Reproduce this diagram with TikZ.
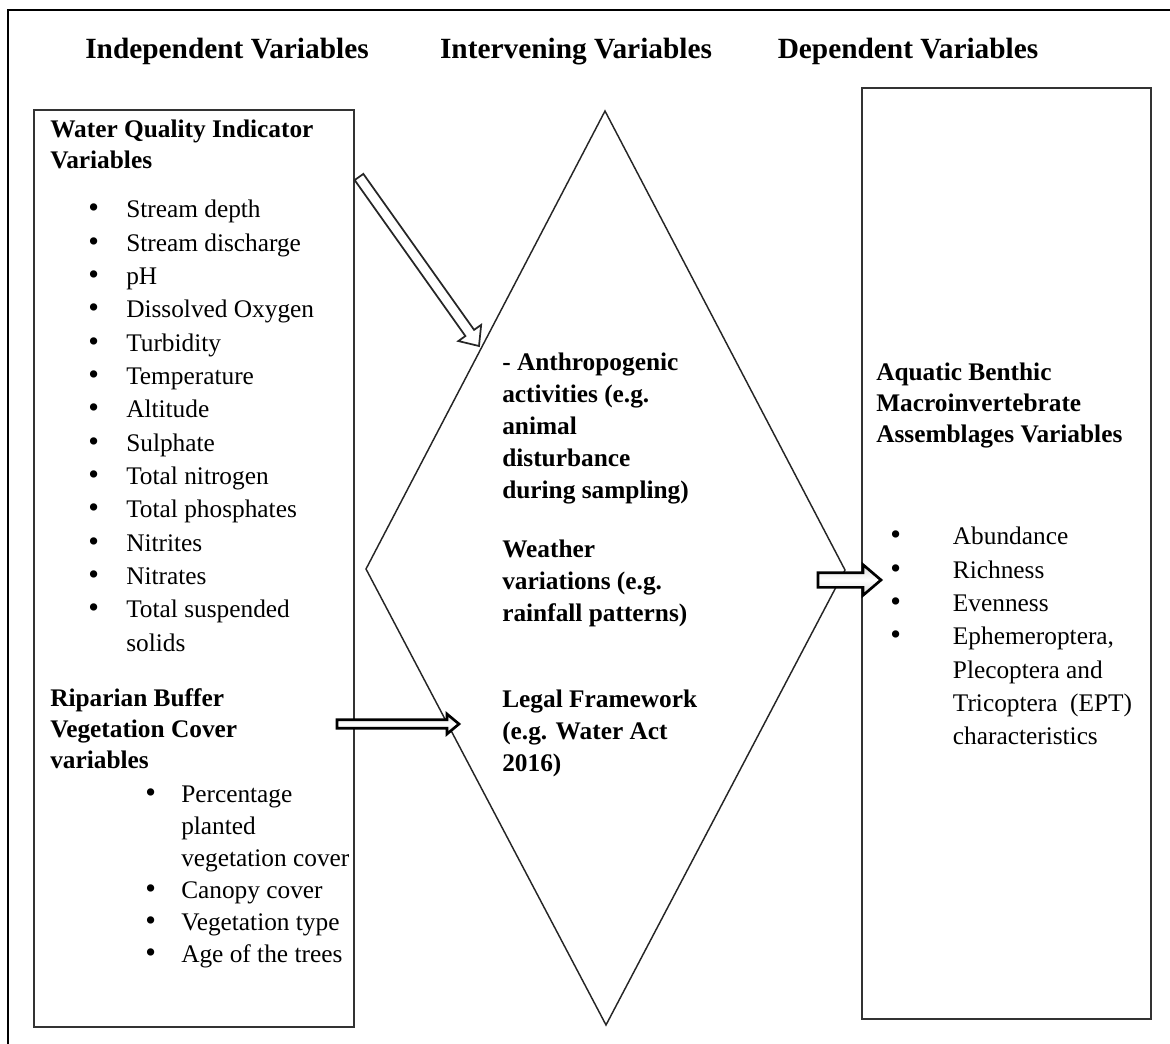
\documentclass[tikz,border=0pt]{standalone}
\usepackage{fontspec}
\setmainfont{Liberation Serif}
\usetikzlibrary{calc}
\newcommand{\bul}[1]{\makebox[#1][l]{\scalebox{1.2}{\textbullet}}}
% block arrow: start, end, shaft half width, head half width, head length
\newcommand{\blockarrow}[6][]{%
  \coordinate (#2n) at ($(#3)!#6!(#2)$);
  \draw[#1] ($(#2)!#4!90:(#3)$) -- ($(#2n)!#4!90:(#3)$) -- ($(#2n)!#5!90:(#3)$) -- (#3)
    -- ($(#2n)!#5!-90:(#3)$) -- ($(#2n)!#4!-90:(#3)$) -- ($(#2)!#4!-90:(#3)$) -- cycle;}

\begin{document}
\begin{tikzpicture}[x=0.75pt,y=-0.75pt,
    title/.style={font=\fontsize{22}{26}\selectfont\bfseries, inner sep=0pt, anchor=base},
    head/.style={font=\fontsize{19}{23.25}\selectfont\bfseries, align=left, anchor=north west, inner sep=0pt},
    items/.style={font=\fontsize{19}{25}\selectfont, align=left, anchor=north west, inner sep=0pt},
    mid/.style={font=\fontsize{19}{24}\selectfont\bfseries, align=left, anchor=north west, inner sep=0pt},
    box/.style={draw=black!80, line width=1.5pt, inner sep=0pt},
    openarrow/.style={draw=black!85, line width=1.3pt, fill=white, line join=miter},
    greyarrow/.style={draw=black, line width=2pt, top color=gray!30, bottom color=gray!30, middle color=white, line join=miter}]
  \useasboundingbox (0,0) rectangle (1170,1044);
  % frame
  \coordinate (fbl) at (8,1046);
  \coordinate (ftl) at (8,10);
  \coordinate (ftr) at (1172,10);
  \draw[line width=2.2pt] (fbl) -- (ftl) -- (ftr);

  % column titles
  \node[title] (tindep) at (227,59) {Independent Variables};
  \node[title] (tinterv) at (576,59) {Intervening Variables};
  \node[title] (tdep) at (908,59) {Dependent Variables};

  % boxes and diamond
  \node[box, minimum width=240pt, minimum height=687.75pt] (indep) at (194,568.5) {};
  \node[box, minimum width=216.75pt, minimum height=698.25pt] (dep) at (1006.5,553.5) {};
  \coordinate (dtop) at (605,111);
  \coordinate (dright) at (845,570);
  \coordinate (dbot) at (606,1025);
  \coordinate (dleft) at (366,569);
  \draw[line width=1.1pt, black!85] (dtop) -- (dright) -- (dbot) -- (dleft) -- cycle;

  % independent variables
  \node[head] (wqhead) at (50,120) {Water Quality Indicator\\Variables};
  \node[items] (wqlist) at (88,200) {\bul{28.5pt}Stream depth\\
    \bul{28.5pt}Stream discharge\\ \bul{28.5pt}pH\\ \bul{28.5pt}Dissolved Oxygen\\
    \bul{28.5pt}Turbidity\\ \bul{28.5pt}Temperature\\ \bul{28.5pt}Altitude\\
    \bul{28.5pt}Sulphate\\ \bul{28.5pt}Total nitrogen\\ \bul{28.5pt}Total phosphates\\
    \bul{28.5pt}Nitrites\\ \bul{28.5pt}Nitrates\\ \bul{28.5pt}Total suspended\\
    \hspace*{28.5pt}solids};
  \node[head] (rbhead) at (50,688) {Riparian Buffer\\Vegetation Cover\\variables};
  \node[items, font=\fontsize{19}{24}\selectfont] (rblist) at (145,786) {\bul{27pt}Percentage\\ \hspace*{27pt}planted\\
    \hspace*{27pt}vegetation cover\\ \bul{27pt}Canopy cover\\
    \bul{27pt}Vegetation type\\ \bul{27pt}Age of the trees};

  % intervening variables
  \node[mid] (anthro) at (502,353) {- Anthropogenic\\activities (e.g.\\animal\\disturbance\\during sampling)};
  \node[mid] (weather) at (502,540) {Weather\\variations (e.g.\\rainfall patterns)};
  \node[mid] (legal) at (502,690) {Legal Framework\\(e.g. Water Act\\2016)};

  % dependent variables
  \node[head] (abhead) at (876,363) {Aquatic Benthic\\Macroinvertebrate\\Assemblages Variables};
  \node[items] (ablist) at (890,527) {\bul{47pt}Abundance\\
    \bul{47pt}Richness\\ \bul{47pt}Evenness\\ \bul{47pt}Ephemeroptera,\\
    \hspace*{47pt}Plecoptera and\\ \hspace*{47pt}Tricoptera \ (EPT)\\ \hspace*{47pt}characteristics};

  % arrows
  \coordinate (a1s) at (359,177);
  \coordinate (a1e) at (479,346);
  \blockarrow[openarrow]{a1s}{a1e}{4pt}{10.5pt}{12pt}
  \coordinate (a2s) at (337,724);
  \coordinate (a2e) at (459,724);
  \blockarrow[greyarrow]{a2s}{a2e}{3.2pt}{7.5pt}{9pt}
  \coordinate (a3s) at (818,580);
  \coordinate (a3e) at (881,580);
  \blockarrow[greyarrow]{a3s}{a3e}{5.5pt}{11.5pt}{13.5pt}
\end{tikzpicture}
\end{document}
